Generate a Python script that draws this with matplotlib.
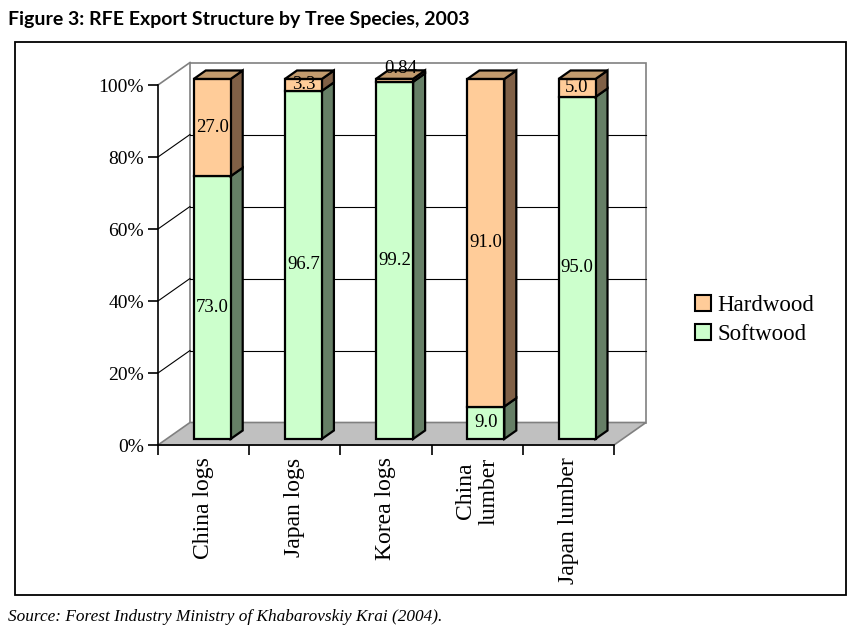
import numpy as np
import matplotlib.pyplot as plt
from matplotlib.patches import Polygon, Rectangle, Patch


# Dane wykresu
categories = ["China logs", "Japan logs", "Korea logs", "China\nlumber", "Japan lumber"]
softwood = [73.0, 96.7, 99.2, 9.0, 95.0]
hardwood = [27.0, 3.3, 0.84, 91.0, 5.0]
y_ticks = [0, 20, 40, 60, 80, 100]

# Kolory (przód, bok, góra)
SOFT = ("#CCFFCC", "#667F66", "#99BF99")
HARD = ("#FFCC99", "#806046", "#C29B6E")

# Głębokość "3D" w jednostkach danych
DX = 0.351
DY = 6.25
F0, F1 = 0.27, 0.645
BAR_W = 0.405


def fmt(v):
    return f"{v:.1f}" if v >= 1 else f"{v:.2f}"


def draw_box(ax, x0, x1, y0, y1, colors, draw_top):
    front, side, top = colors
    ox0, oy0 = F0 * DX, F0 * DY
    ox1, oy1 = F1 * DX, F1 * DY
    kw = dict(edgecolor="black", lw=1.6, joinstyle="miter", zorder=3, clip_on=False)
    ax.add_patch(Polygon([(x1 + ox0, y0 + oy0), (x1 + ox1, y0 + oy1),
                          (x1 + ox1, y1 + oy1), (x1 + ox0, y1 + oy0)],
                         facecolor=side, **kw))
    ax.add_patch(Rectangle((x0 + ox0, y0 + oy0), x1 - x0, y1 - y0,
                           facecolor=front, **kw))
    if draw_top:
        ax.add_patch(Polygon([(x0 + ox0, y1 + oy0), (x1 + ox0, y1 + oy0),
                              (x1 + ox1, y1 + oy1), (x0 + ox1, y1 + oy1)],
                             facecolor=top, **kw))


def main():
    W, H = 863, 638
    fig = plt.figure(figsize=(W / 100, H / 100), dpi=100)
    serif = "Liberation Serif"

    # Osie: x -0.5..4.5 -> px 158..614, y 0..100 -> px 445..85
    ax = fig.add_axes([158 / W, 1 - 445 / H, 456 / W, 360 / H])
    n = len(categories)
    ax.set_xlim(-0.5, n - 0.5)
    ax.set_ylim(0, 100)

    # Tło: ściana tylna, lewa, podłoga
    x_l, x_r = -0.5, n - 0.5
    ax.add_patch(Polygon([(x_l + DX, DY), (x_r + DX, DY), (x_r + DX, 100 + DY), (x_l + DX, 100 + DY)],
                         facecolor="white", edgecolor="#808080", lw=1.2, zorder=0.5, clip_on=False))
    ax.add_patch(Polygon([(x_l, 0), (x_r, 0), (x_r + DX, DY), (x_l + DX, DY)],
                         facecolor="#C0C0C0", edgecolor="#808080", lw=1.2, zorder=0.8, clip_on=False))
    ax.plot([x_l, x_l + DX], [100, 100 + DY], color="#808080", lw=1.2, zorder=0.9, clip_on=False)
    for v in y_ticks[1:-1]:
        ax.plot([x_l, x_l + DX], [v, v + DY], color="black", lw=0.8, zorder=0.9, clip_on=False)
        ax.plot([x_l + DX, x_r + DX], [v + DY, v + DY], color="black", lw=0.8, zorder=0.9, clip_on=False)

    # Słupki
    xs = np.arange(n)
    for i in xs:
        x0, x1 = i - BAR_W / 2, i + BAR_W / 2
        s, h = softwood[i], hardwood[i]
        draw_box(ax, x0, x1, 0, s, SOFT, False)
        draw_box(ax, x0, x1, s, s + h, HARD, True)
        xc = i + F0 * DX
        ax.text(xc, s / 2 + F0 * DY, fmt(s), ha="center", va="center",
                family=serif, fontsize=13.5, zorder=5)
        if h < 2:
            ax.text(xc + (F1 - F0) * DX / 2, s + h + F1 * DY + 0.5, fmt(h),
                    ha="center", va="center", family=serif, fontsize=13.5, zorder=5, clip_on=False)
        else:
            ax.text(xc, s + h / 2 + F0 * DY, fmt(h), ha="center", va="center",
                    family=serif, fontsize=13.5, zorder=5, clip_on=False)

    # Osie i etykiety
    for side in ["top", "right"]:
        ax.spines[side].set_visible(False)
    ax.spines["left"].set_linewidth(1.2)
    ax.spines["bottom"].set_linewidth(1.2)
    ax.patch.set_visible(False)
    ax.set_yticks(y_ticks)
    ax.set_yticklabels([f"{v}%" for v in y_ticks], family=serif, fontsize=14)
    ax.set_xticks(np.arange(n + 1) - 0.5)
    ax.set_xticklabels([])
    ax.set_xticks(xs, minor=True)
    ax.set_xticklabels(categories, minor=True, rotation=90, family=serif,
                       fontsize=17, multialignment="center")
    ax.tick_params(axis="both", which="major", direction="out", length=7, width=1.2, color="black")
    ax.tick_params(axis="y", pad=3)
    ax.tick_params(axis="x", which="minor", length=0, pad=9)

    # Legenda
    handles = [Patch(facecolor=HARD[0], edgecolor="black", lw=1.5, label="Hardwood"),
               Patch(facecolor=SOFT[0], edgecolor="black", lw=1.5, label="Softwood")]
    fig.legend(handles=handles, loc="center left", bbox_to_anchor=(674 / W, 1 - 320 / H),
               frameon=False, prop={"family": serif, "size": 16.5},
               handlelength=0.7, handleheight=0.7, handletextpad=0.3, labelspacing=0.35)

    # Ramka, tytuł, źródło
    fig.add_artist(Rectangle((15 / W, 1 - 595 / H), 831 / W, 553 / H, transform=fig.transFigure,
                             fill=False, edgecolor="black", lw=1.3))
    fig.text(8 / W, 1 - 20 / H, "Figure 3: RFE Export Structure by Tree Species, 2003",
             family="Lato", fontweight="bold", fontsize=14, va="center")
    fig.text(8 / W, 1 - 617 / H, "Source: Forest Industry Ministry of Khabarovskiy Krai (2004).",
             family=serif, style="italic", fontsize=12.4, va="center")

    fig.savefig("out.png", dpi=100)


if __name__ == "__main__":
    main()
